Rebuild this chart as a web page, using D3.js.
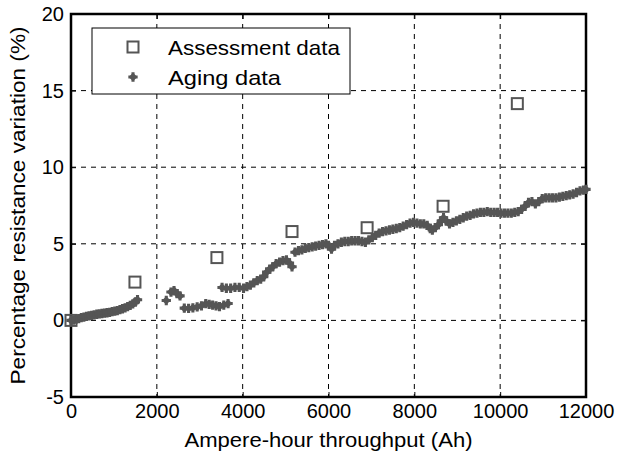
<!DOCTYPE html>
<html>
<head>
<meta charset="utf-8">
<script src="https://cdn.jsdelivr.net/npm/d3@7"></script>
<style>
  body { margin: 0; background: #fff; }
  text { font-family: "Liberation Sans", Arial, sans-serif; fill: #000; }
</style>
</head>
<body>
<div class="chart"></div>
<script>
// Assessment data (squares)
var assessX = [0, 1490, 3400, 5150, 6900, 8670, 10400];
var assessY = [0, 2.5, 4.1, 5.8, 6.05, 7.45, 14.15];

// Aging data (filled markers)
var agingX = [0, 60, 120, 180, 240, 300, 360, 420, 480, 540, 600, 660, 720, 780, 840, 900, 960, 1020, 1080, 1140,
    1200, 1260, 1320, 1380, 1440, 1500, 1550,
    2220, 2330, 2400, 2470, 2540,
    2640, 2740, 2840, 2940, 3040, 3140, 3220, 3300, 3380, 3460, 3560, 3660,
    3520, 3620, 3720, 3820, 3920, 4020, 4100, 4180, 4260, 4340, 4420, 4490, 4560, 4630, 4700, 4780, 4860, 4940,
    5020, 5090, 5150,
    5220, 5300, 5380, 5460, 5540, 5620, 5700, 5780, 5860, 5940, 6000, 6070, 6140, 6220, 6300, 6380, 6460, 6540,
    6620, 6700, 6780, 6860, 6940, 7020, 7100, 7180, 7260, 7340, 7420, 7500, 7580, 7660, 7740, 7820, 7900, 7980,
    8060, 8140, 8220, 8300, 8370, 8420, 8490, 8560, 8630, 8680, 8740, 8820, 8900, 8980, 9060, 9140, 9220, 9300,
    9380, 9460, 9540, 9620, 9700, 9780, 9860, 9940, 10020, 10100, 10180, 10260, 10340, 10420, 10500, 10580,
    10660, 10740, 10820, 10900, 10980, 11060, 11140, 11220, 11300, 11380, 11460, 11540, 11620, 11700, 11780,
    11860, 11940, 12000];
var agingY = [0, 0.02, 0.08, 0.12, 0.18, 0.22, 0.26, 0.3, 0.33, 0.36, 0.4, 0.42, 0.45, 0.48, 0.5, 0.53, 0.57, 0.6, 0.64, 0.7,
    0.76, 0.82, 0.9, 0.98, 1.08, 1.2, 1.35,
    1.3, 1.85, 1.95, 1.75, 1.6,
    0.8, 0.78, 0.82, 0.88, 0.95, 1.1, 1.05, 1.0, 0.95, 0.9, 1.0, 1.1,
    2.15, 2.1, 2.1, 2.15, 2.15, 2.1, 2.2, 2.3, 2.45, 2.6, 2.7, 2.85, 3.15, 3.35, 3.5, 3.7, 3.8, 3.9,
    3.95, 3.75, 3.5,
    4.45, 4.55, 4.6, 4.7, 4.75, 4.8, 4.85, 4.9, 4.95, 5.0, 4.9, 4.65, 4.9, 5.0, 5.1, 5.15, 5.15, 5.2,
    5.2, 5.2, 5.15, 5.1, 5.25, 5.4, 5.55, 5.7, 5.8, 5.85, 5.9, 5.95, 6.0, 6.05, 6.15, 6.25, 6.35, 6.4,
    6.35, 6.3, 6.3, 6.2, 6.0, 5.9, 6.05, 6.25, 6.5, 6.7, 6.5, 6.3, 6.4, 6.5, 6.6, 6.7, 6.8, 6.85,
    6.95, 7.0, 7.05, 7.05, 7.1, 7.05, 7.05, 7.05, 7.0, 7.0, 7.0, 7.0, 7.05, 7.1, 7.25, 7.45,
    7.7, 7.75, 7.6, 7.75, 7.95, 8.0, 8.0, 8.0, 8.0, 8.05, 8.1, 8.15, 8.2, 8.25, 8.35,
    8.45, 8.5, 8.55];

var xTicks = [0, 2000, 4000, 6000, 8000, 10000, 12000];
var yTicks = [-5, 0, 5, 10, 15, 20];
var legendLabels = ["Assessment data", "Aging data"];

var svgWidth = 619;
var svgHeight = 459;
var margin = { top: 14, right: 33, bottom: 62, left: 71 };
var width = svgWidth - margin.left - margin.right;
var height = svgHeight - margin.top - margin.bottom;

var svg = d3.select(".chart")
    .append("svg")
    .attr("width", svgWidth)
    .attr("height", svgHeight);

var chartGroup = svg.append("g")
    .attr("transform", `translate(${margin.left}, ${margin.top})`);

var xScale = d3.scaleLinear().domain([0, 12000]).range([0, width]);
var yScale = d3.scaleLinear().domain([-5, 20]).range([height, 0]);

var markColor = "#555555";
var plainFormat = d => String(d);

// Dashed grid
chartGroup.append("g")
    .selectAll("line")
    .data(xTicks.slice(1, -1))
    .enter()
    .append("line")
    .attr("x1", d => xScale(d)).attr("x2", d => xScale(d))
    .attr("y1", 0).attr("y2", height)
    .attr("stroke", "#000").attr("stroke-width", 1)
    .attr("stroke-dasharray", "5,5");

chartGroup.append("g")
    .selectAll("line")
    .data(yTicks.slice(1, -1))
    .enter()
    .append("line")
    .attr("x1", 0).attr("x2", width)
    .attr("y1", d => yScale(d)).attr("y2", d => yScale(d))
    .attr("stroke", "#000").attr("stroke-width", 1)
    .attr("stroke-dasharray", "5,5");

// Axes with inward ticks
var bottomAxis = d3.axisBottom(xScale).tickValues(xTicks).tickFormat(plainFormat)
    .tickSizeInner(-5).tickSizeOuter(0).tickPadding(7);
var leftAxis = d3.axisLeft(yScale).tickValues(yTicks).tickFormat(plainFormat)
    .tickSizeInner(-5).tickSizeOuter(0).tickPadding(7);
var topAxis = d3.axisTop(xScale).tickValues(xTicks).tickSizeInner(-5).tickSizeOuter(0).tickFormat("");
var rightAxis = d3.axisRight(yScale).tickValues(yTicks).tickSizeInner(-5).tickSizeOuter(0).tickFormat("");

function styleAxis(g) {
    g.select(".domain").remove();
    g.selectAll(".tick line").attr("stroke", "#000").attr("stroke-width", 1);
    g.selectAll(".tick text")
        .style("font-size", "20px")
        .style("font-family", "Liberation Sans, Arial, sans-serif")
        .attr("fill", "#000");
}

chartGroup.append("g").attr("transform", `translate(0, ${height})`).call(bottomAxis).call(styleAxis);
chartGroup.append("g").call(leftAxis).call(styleAxis);
chartGroup.append("g").call(topAxis).call(styleAxis);
chartGroup.append("g").attr("transform", `translate(${width}, 0)`).call(rightAxis).call(styleAxis);

// Plot box
chartGroup.append("rect")
    .attr("x", 0).attr("y", 0)
    .attr("width", width).attr("height", height)
    .attr("fill", "none")
    .attr("stroke", "#000")
    .attr("stroke-width", 2.5);

// Aging data markers: rotated square plus a small cross
var agingSymbol = d3.symbol().type(d3.symbolSquare).size(36);
var agingCross = d3.symbol().type(d3.symbolCross).size(48);

var agingData = agingX.map((x, i) => ({ x: x, y: agingY[i] }));
var assessData = assessX.map((x, i) => ({ x: x, y: assessY[i] }));

var agingGroup = chartGroup.append("g");
agingGroup.selectAll("path.dia")
    .data(agingData)
    .enter()
    .append("path")
    .attr("class", "dia")
    .attr("d", agingSymbol)
    .attr("transform", d => `translate(${xScale(d.x)}, ${yScale(d.y)}) rotate(45)`)
    .attr("fill", markColor);
agingGroup.selectAll("path.crs")
    .data(agingData)
    .enter()
    .append("path")
    .attr("class", "crs")
    .attr("d", agingCross)
    .attr("transform", d => `translate(${xScale(d.x)}, ${yScale(d.y)})`)
    .attr("fill", markColor);

// Assessment data squares
chartGroup.append("g")
    .selectAll("rect")
    .data(assessData)
    .enter()
    .append("rect")
    .attr("x", d => xScale(d.x) - 5.5)
    .attr("y", d => yScale(d.y) - 5.5)
    .attr("width", 11).attr("height", 11)
    .attr("fill", "none")
    .attr("stroke", markColor)
    .attr("stroke-width", 2);

// Legend
var legend = svg.append("g").attr("transform", "translate(92, 28)");
legend.append("rect")
    .attr("width", 258).attr("height", 66)
    .attr("fill", "#fff")
    .attr("stroke", "#000")
    .attr("stroke-width", 1);

legend.append("rect")
    .attr("x", 41 - 5.5).attr("y", 19 - 5.5)
    .attr("width", 11).attr("height", 11)
    .attr("fill", "none")
    .attr("stroke", markColor)
    .attr("stroke-width", 2);
legend.append("path")
    .attr("d", agingSymbol)
    .attr("transform", "translate(41, 49) rotate(45)")
    .attr("fill", markColor);
legend.append("path")
    .attr("d", agingCross)
    .attr("transform", "translate(41, 49)")
    .attr("fill", markColor);

var legendWidths = [172, 113];
legend.selectAll("text.lbl")
    .data(legendLabels)
    .enter()
    .append("text")
    .attr("class", "lbl")
    .attr("x", 76)
    .attr("y", (d, i) => 26.5 + i * 30)
    .attr("textLength", (d, i) => legendWidths[i])
    .attr("lengthAdjust", "spacingAndGlyphs")
    .style("font-size", "21px")
    .text(d => d);

// Axis labels
svg.append("text")
    .attr("x", margin.left + width / 2)
    .attr("y", 447)
    .attr("text-anchor", "middle")
    .attr("textLength", 288)
    .attr("lengthAdjust", "spacingAndGlyphs")
    .style("font-size", "21px")
    .text("Ampere-hour throughput (Ah)");

svg.append("text")
    .attr("transform", `translate(25, ${margin.top + height / 2}) rotate(-90)`)
    .attr("text-anchor", "middle")
    .attr("textLength", 358)
    .attr("lengthAdjust", "spacingAndGlyphs")
    .style("font-size", "21px")
    .text("Percentage resistance variation (%)");
</script>
</body>
</html>
